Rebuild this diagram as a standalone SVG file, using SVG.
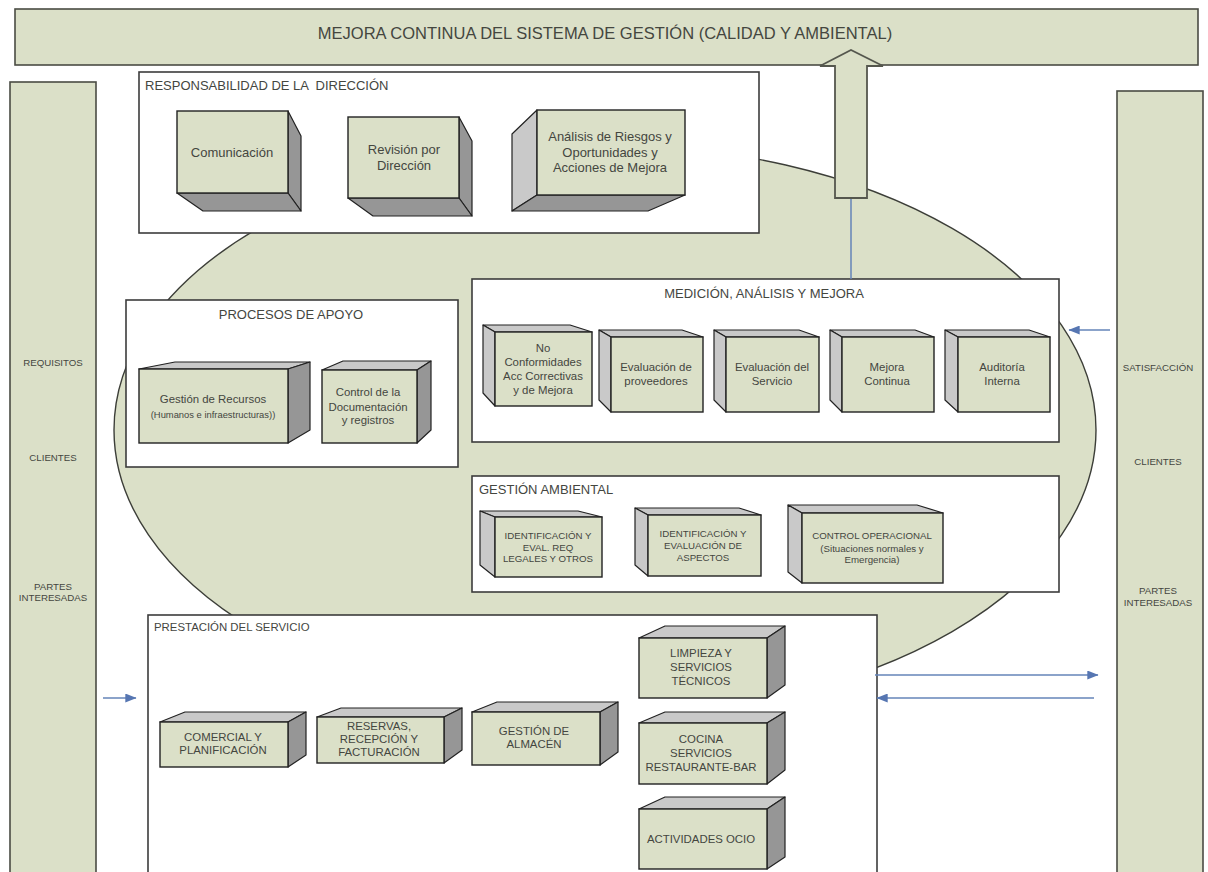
<svg xmlns="http://www.w3.org/2000/svg" width="1208" height="872" viewBox="0 0 1208 872">
<style>
text{font-family:"Liberation Sans",Arial,sans-serif;fill:#44463f;text-anchor:middle;dominant-baseline:central}
.l{text-anchor:start}
.shape{fill:#dbe0c8;stroke:#4a4c44;stroke-width:1.6}
.panel{fill:#fff;stroke:#3c3c3c;stroke-width:1.6}
.f{fill:#dbe0c8;stroke:#222;stroke-width:1.4}
.d{fill:#969696;stroke:#222;stroke-width:1.2;stroke-linejoin:round}
.g{fill:#c9c9c9;stroke:#222;stroke-width:1.2;stroke-linejoin:round}
.conn{stroke:#6584b8;stroke-width:1.5;fill:none}
.s8{font-size:9.7px}.s9{font-size:9.7px}.s10{font-size:11.4px}.s11{font-size:13px}.s12{font-size:13px}
</style>
<defs>
<marker id="ah" viewBox="0 0 10 8" refX="9.5" refY="4" markerUnits="userSpaceOnUse" markerWidth="12" markerHeight="9" orient="auto"><path d="M0 0L10 4L0 8Z" fill="#5676b2"/></marker>
</defs>
<rect width="1208" height="872" fill="#fff"/>
<ellipse id="fondo" cx="605" cy="430" rx="491" ry="285" fill="#dbe0c8" stroke="#3c3e38" stroke-width="1.4"/>

<g id="banner"><rect class="shape" x="15" y="9" width="1183" height="56"/><text x="605" y="33" style="font-size:16.5px">MEJORA CONTINUA DEL SISTEMA DE GESTIÓN (CALIDAD Y AMBIENTAL)</text></g>

<g id="entradas"><rect class="shape" x="10" y="82" width="86" height="800"/>
<text class="s8" x="53" y="362">REQUISITOS</text><text class="s8" x="53" y="457">CLIENTES</text><text class="s8" x="53" y="586">PARTES</text><text class="s8" x="53" y="597">INTERESADAS</text></g>

<g id="salidas"><rect class="shape" x="1117" y="91" width="86" height="790"/>
<text class="s8" x="1158" y="367">SATISFACCIÓN</text><text class="s8" x="1158" y="461">CLIENTES</text><text class="s8" x="1158" y="590">PARTES</text><text class="s8" x="1158" y="602">INTERESADAS</text></g>

<g id="responsabilidad"><rect class="panel" x="139" y="72" width="620" height="161"/><text class="l s11" x="145" y="85" style="white-space:pre">RESPONSABILIDAD DE LA  DIRECCIÓN</text></g>
<g id="comunicacion"><polygon class="d" points="288,111 301,136 301,211 288,193"/><polygon class="d" points="177,193 288,193 301,211 203,211"/><rect class="f" x="177" y="111" width="111" height="82"/><text class="s11" x="232" y="152">Comunicación</text></g>
<g id="revision"><polygon class="d" points="459,117 472,141 472,216 459,198"/><polygon class="d" points="348,198 459,198 472,216 373,216"/><rect class="f" x="348" y="117" width="111" height="81"/><text class="s11" x="404" y="149">Revisión por</text><text class="s11" x="404" y="165">Dirección</text></g>
<g id="analisis"><polygon class="g" points="537,110 512,134 512,211 537,195"/><polygon class="d" points="537,195 685,195 648,211 512,211"/><rect class="f" x="537" y="110" width="148" height="85"/><text class="s11" x="610" y="136">Análisis de Riesgos y</text><text class="s11" x="610" y="152">Oportunidades y</text><text class="s11" x="610" y="167">Acciones de Mejora</text></g>

<g id="apoyo"><rect class="panel" x="126" y="300" width="332" height="167"/><text class="s12" x="291" y="314">PROCESOS DE APOYO</text></g>
<g id="recursos"><polygon class="g" points="139,369 175,362 310,362 288,369"/><polygon class="d" points="288,369 310,362 310,430 288,443"/><rect class="f" x="139" y="369" width="149" height="74"/><text x="213" y="399" style="font-size:11.4px">Gestión de Recursos</text><text x="213" y="414" style="font-size:9.4px">(Humanos e infraestructuras))</text></g>
<g id="documentacion"><polygon class="g" points="322,370 343,361 431,361 417,370"/><polygon class="d" points="417,370 431,361 431,430 417,443"/><rect class="f" x="322" y="370" width="95" height="73"/><text class="s10" x="368" y="392">Control de la</text><text class="s10" x="368" y="407">Documentación</text><text class="s10" x="368" y="420">y registros</text></g>

<g id="medicion"><rect class="panel" x="472" y="279" width="587" height="163"/><text class="s11" x="764" y="293">MEDICIÓN, ANÁLISIS Y MEJORA</text></g>
<g id="noconf"><polygon class="g" points="483,325 570,325 592,332 495,332"/><polygon class="g" points="483,325 495,332 495,406 483,393"/><rect class="f" x="495" y="332" width="97" height="74"/><text class="s10" x="543" y="348">No</text><text class="s10" x="543" y="362">Conformidades</text><text class="s10" x="543" y="376">Acc Correctivas</text><text class="s10" x="543" y="390">y de Mejora</text></g>
<g id="evalprov"><polygon class="g" points="599,330 682,330 703,337 611,337"/><polygon class="g" points="599,330 611,337 611,412 599,400"/><rect class="f" x="611" y="337" width="92" height="75"/><text class="s10" x="656" y="367">Evaluación de</text><text class="s10" x="656" y="381">proveedores</text></g>
<g id="evalserv"><polygon class="g" points="714,330 799,330 819,337 726,337"/><polygon class="g" points="714,330 726,337 726,412 714,400"/><rect class="f" x="726" y="337" width="93" height="75"/><text class="s10" x="772" y="367">Evaluación del</text><text class="s10" x="772" y="381">Servicio</text></g>
<g id="mejora"><polygon class="g" points="830,330 915,330 934,337 842,337"/><polygon class="g" points="830,330 842,337 842,412 830,400"/><rect class="f" x="842" y="337" width="92" height="75"/><text class="s10" x="887" y="367">Mejora</text><text class="s10" x="887" y="381">Continua</text></g>
<g id="auditoria"><polygon class="g" points="945,330 1029,330 1050,337 958,337"/><polygon class="g" points="945,330 958,337 958,412 945,400"/><rect class="f" x="958" y="337" width="92" height="75"/><text class="s10" x="1002" y="367">Auditoría</text><text class="s10" x="1002" y="381">Interna</text></g>

<g id="ambiental"><rect class="panel" x="472" y="476" width="587" height="116"/><text class="l s11" x="479" y="489">GESTIÓN AMBIENTAL</text></g>
<g id="idreq"><polygon class="g" points="480,511 578,511 602,517 495,517"/><polygon class="g" points="480,511 495,517 495,577 480,565"/><rect class="f" x="495" y="517" width="107" height="60"/><text class="s9" x="548" y="535">IDENTIFICACIÓN Y</text><text class="s9" x="548" y="547">EVAL. REQ</text><text class="s9" x="548" y="558">LEGALES Y OTROS</text></g>
<g id="idasp"><polygon class="g" points="635,508 739,508 761,515 648,515"/><polygon class="g" points="635,508 648,515 648,576 635,565"/><rect class="f" x="648" y="515" width="113" height="61"/><text class="s9" x="703" y="533">IDENTIFICACIÓN Y</text><text class="s9" x="703" y="545">EVALUACIÓN DE</text><text class="s9" x="703" y="557">ASPECTOS</text></g>
<g id="control"><polygon class="g" points="788,505 917,505 943,513 802,513"/><polygon class="g" points="788,505 802,513 802,583 788,572"/><rect class="f" x="802" y="513" width="141" height="70"/><text class="s9" x="872" y="535">CONTROL OPERACIONAL</text><text class="s8" x="872" y="548">(Situaciones normales y</text><text class="s8" x="872" y="559">Emergencia)</text></g>

<g id="prestacion"><rect class="panel" x="148" y="615" width="729" height="270"/><text class="l s10" x="154" y="627">PRESTACIÓN DEL SERVICIO</text></g>
<g id="comercial"><polygon class="g" points="160,722 185,712 306,712 288,722"/><polygon class="d" points="288,722 306,712 306,755 288,767"/><rect class="f" x="160" y="722" width="128" height="45"/><text class="s10" x="223" y="737">COMERCIAL Y</text><text class="s10" x="223" y="750">PLANIFICACIÓN</text></g>
<g id="reservas"><polygon class="g" points="317,717 341,708 462,708 444,717"/><polygon class="d" points="444,717 462,708 462,750 444,763"/><rect class="f" x="317" y="717" width="127" height="46"/><text class="s10" x="379" y="726">RESERVAS,</text><text class="s10" x="379" y="739">RECEPCIÓN Y</text><text class="s10" x="379" y="752">FACTURACIÓN</text></g>
<g id="almacen"><polygon class="g" points="472,712 497,702 618,702 600,712"/><polygon class="d" points="600,712 618,702 618,752 600,765"/><rect class="f" x="472" y="712" width="128" height="53"/><text class="s10" x="534" y="731">GESTIÓN DE</text><text class="s10" x="534" y="744">ALMACÉN</text></g>
<g id="limpieza"><polygon class="g" points="639,638 665,626 785,626 767,638"/><polygon class="d" points="767,638 785,626 785,685 767,698"/><rect class="f" x="639" y="638" width="128" height="60"/><text class="s10" x="701" y="653">LIMPIEZA Y</text><text class="s10" x="701" y="667">SERVICIOS</text><text class="s10" x="701" y="681">TÉCNICOS</text></g>
<g id="cocina"><polygon class="g" points="639,723 665,712 785,712 767,723"/><polygon class="d" points="767,723 785,712 785,770 767,784"/><rect class="f" x="639" y="723" width="128" height="61"/><text class="s10" x="701" y="739">COCINA</text><text class="s10" x="701" y="753">SERVICIOS</text><text class="s10" x="701" y="767">RESTAURANTE-BAR</text></g>
<g id="ocio"><polygon class="g" points="639,809 665,797 785,797 767,809"/><polygon class="d" points="767,809 785,797 785,857 767,869"/><rect class="f" x="639" y="809" width="128" height="60"/><text class="s10" x="701" y="839">ACTIVIDADES OCIO</text></g>

<g id="conectores">
<polygon points="835,198 835,66 820,66 851,50 883,66 867,66 867,198" fill="#dbe0c8" stroke="#55574e" stroke-width="1.8"/>
<line class="conn" x1="851" y1="199" x2="851" y2="279"/>
<line class="conn" x1="1110" y1="330" x2="1069" y2="330" marker-end="url(#ah)"/>
<line class="conn" x1="875" y1="675" x2="1098" y2="675" marker-end="url(#ah)"/>
<line class="conn" x1="1094" y1="698" x2="877" y2="698" marker-end="url(#ah)"/>
<line class="conn" x1="103" y1="698" x2="136" y2="698" marker-end="url(#ah)"/>
</g>
</svg>
